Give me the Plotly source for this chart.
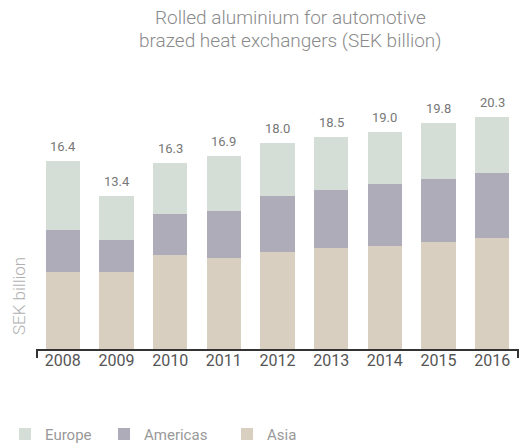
import plotly.graph_objects as go

years = ["2008", "2009", "2010", "2011", "2012", "2013", "2014", "2015", "2016"]
asia = [6.7, 6.7, 8.2, 8.0, 8.5, 8.8, 9.0, 9.4, 9.7]
americas = [3.7, 2.8, 3.6, 4.1, 4.9, 5.1, 5.4, 5.5, 5.7]
europe = [6.0, 3.9, 4.5, 4.8, 4.6, 4.6, 4.6, 4.9, 4.9]
totals = [16.4, 13.4, 16.3, 16.9, 18.0, 18.5, 19.0, 19.8, 20.3]
total_labels = ["16.4", "13.4", "16.3", "16.9", "18.0", "18.5", "19.0", "19.8", "20.3"]

FONT = "Roboto"
c_asia = "#d9cfc0"
c_amer = "#adacb8"
c_eur = "#d4ded6"

W, H = 521, 444
L, R, T, B = 36, 2, 70, 95
PW, PH = W - L - R, H - T - B


def px_x(x):
    return (x - L) / PW


def px_y(y):
    return (H - B - y) / PH


legend_font = dict(family=FONT, size=15, color="#999999")


def legend_at(xpix):
    return dict(orientation="h", xref="container", yref="container",
                x=xpix / W, y=0.022, xanchor="left", yanchor="middle",
                font=legend_font, itemsizing="constant", bgcolor="rgba(0,0,0,0)")


fig = go.Figure()
fig.add_trace(go.Bar(x=years, y=asia, name="Asia", legend="legend3",
                     marker=dict(color=c_asia, line=dict(width=0))))
fig.add_trace(go.Bar(x=years, y=americas, name="Americas", legend="legend2",
                     marker=dict(color=c_amer, line=dict(width=0))))
fig.add_trace(go.Bar(x=years, y=europe, name="Europe", legend="legend",
                     marker=dict(color=c_eur, line=dict(width=0))))

# category axis: annotation positions given as category index
label_annotations = [
    dict(x=i, y=tot, text=lab, xref="x", yref="y", showarrow=False,
         xanchor="center", yanchor="bottom", yshift=5,
         font=dict(family=FONT, size=13, color="#777777"))
    for i, (tot, lab) in enumerate(zip(totals, total_labels))
]

fig.update_layout(
    width=W, height=H,
    barmode="stack", bargap=0.36,
    margin=dict(l=L, r=R, t=T, b=B),
    paper_bgcolor="white", plot_bgcolor="white",
    font=dict(family=FONT, color="#777777"),
    showlegend=True,
    legend=legend_at(5),
    legend2=legend_at(104),
    legend3=legend_at(227),
    xaxis=dict(type="category", range=[-0.5, len(years) - 0.5], showgrid=False,
               showline=False, ticks="", zeroline=False,
               tickfont=dict(family=FONT, size=16, color="#555555")),
    yaxis=dict(range=[0, 24.4], visible=False),
    annotations=label_annotations + [
        dict(text="Rolled aluminium for automotive", xref="paper", yref="paper",
             x=px_x(290), y=px_y(17), xanchor="center", yanchor="middle", showarrow=False,
             font=dict(family=FONT, size=19, color="#8a8a8a", weight=300)),
        dict(text="brazed heat exchangers (SEK billion)", xref="paper", yref="paper",
             x=px_x(290), y=px_y(40), xanchor="center", yanchor="middle", showarrow=False,
             font=dict(family=FONT, size=19, color="#8a8a8a", weight=300)),
        dict(text="SEK billion", xref="paper", yref="paper", x=px_x(19), y=px_y(296),
             textangle=-90, xanchor="center", yanchor="middle", showarrow=False,
             font=dict(family=FONT, size=17, color="#b0b0b0", weight=300)),
    ],
    shapes=[
        dict(type="line", xref="paper", yref="paper", x0=0, x1=1, y0=px_y(350), y1=px_y(350),
             line=dict(color="#333333", width=2)),
        dict(type="line", xref="paper", yref="paper", x0=px_x(37), x1=px_x(37), y0=px_y(350), y1=px_y(358),
             line=dict(color="#333333", width=2)),
        dict(type="line", xref="paper", yref="paper", x0=px_x(518), x1=px_x(518), y0=px_y(350), y1=px_y(358),
             line=dict(color="#333333", width=2)),
    ],
)

fig.write_html("out.html", config={"displayModeBar": False},
               post_script="document.body.style.margin='0';document.body.style.overflow='hidden';")
